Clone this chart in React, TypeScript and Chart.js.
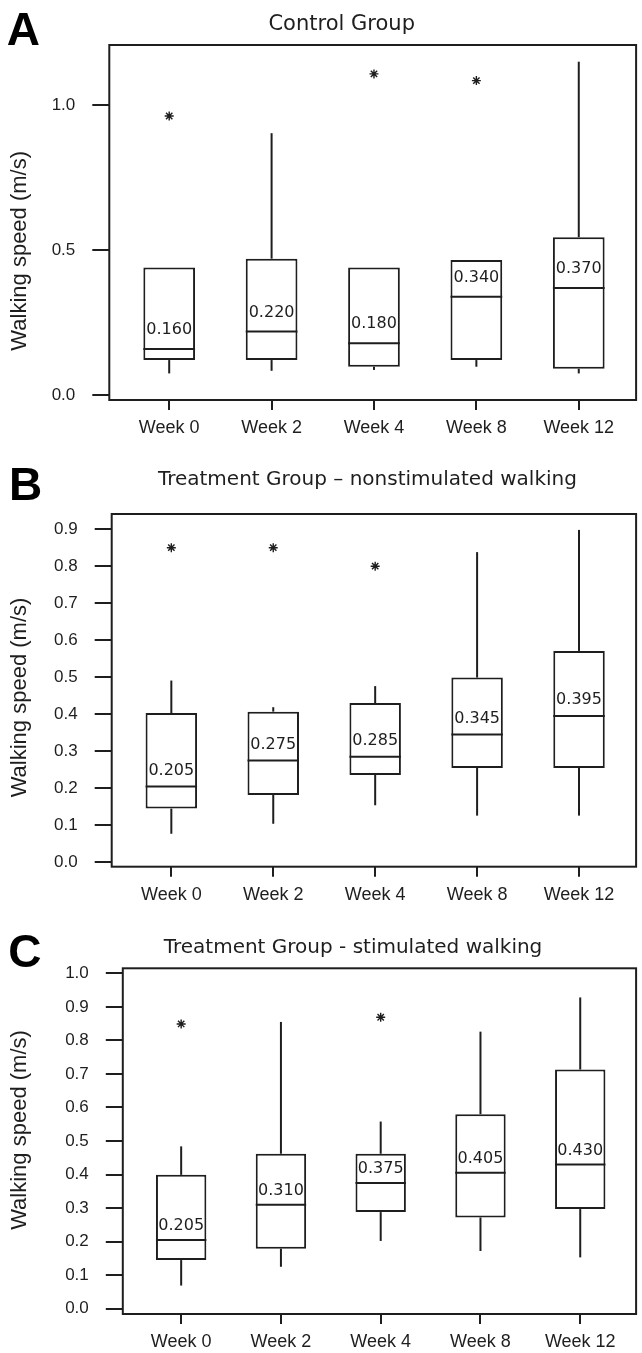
import React, { useEffect, useRef } from 'react';
import { Chart, registerables } from 'chart.js';

Chart.register(...registerables);

// ---------- data ----------
const categories = ['Week 0', 'Week 2', 'Week 4', 'Week 8', 'Week 12'];
const yAxisTitle = 'Walking speed (m/s)';

// Panel A – Control Group
const controlTitle = 'Control Group';
const controlQ1 = [0.122, 0.122, 0.099, 0.122, 0.092];
const controlMedian = [0.16, 0.22, 0.18, 0.34, 0.37];
const controlQ3 = [0.441, 0.471, 0.441, 0.466, 0.545];
const controlLow = [0.076, 0.085, 0.088, 0.099, 0.076];
const controlHigh = [0.441, 0.903, 0.441, 0.466, 1.149];
const controlOutlierWeek = [0, 2, 3];
const controlOutlierValue = [0.962, 1.107, 1.084];
const controlYTicks = [0, 0.5, 1.0];

// Panel B – Treatment Group, nonstimulated walking
const nonstimTitle = 'Treatment Group \u2013 nonstimulated walking';
const nonstimQ1 = [0.145, 0.182, 0.236, 0.255, 0.255];
const nonstimMedian = [0.205, 0.275, 0.285, 0.345, 0.395];
const nonstimQ3 = [0.403, 0.407, 0.43, 0.499, 0.571];
const nonstimLow = [0.077, 0.104, 0.154, 0.126, 0.126];
const nonstimHigh = [0.491, 0.419, 0.476, 0.838, 0.898];
const nonstimOutlierWeek = [0, 1, 2];
const nonstimOutlierValue = [0.85, 0.85, 0.8];
const nonstimYTicks = [0, 0.1, 0.2, 0.3, 0.4, 0.5, 0.6, 0.7, 0.8, 0.9];

// Panel C – Treatment Group, stimulated walking
const stimTitle = 'Treatment Group - stimulated walking';
const stimQ1 = [0.145, 0.179, 0.288, 0.272, 0.297];
const stimMedian = [0.205, 0.31, 0.375, 0.405, 0.43];
const stimQ3 = [0.399, 0.462, 0.462, 0.58, 0.713];
const stimLow = [0.069, 0.125, 0.202, 0.172, 0.153];
const stimHigh = [0.484, 0.855, 0.558, 0.826, 0.928];
const stimOutlierWeek = [0, 2];
const stimOutlierValue = [0.849, 0.869];
const stimYTicks = [0, 0.1, 0.2, 0.3, 0.4, 0.5, 0.6, 0.7, 0.8, 0.9, 1.0];

// ---------- styling / layout ----------
const INK = '#1e1e1e';
const SANS = "'Liberation Sans', Arial, Helvetica, sans-serif";
const DEJAVU = "'DejaVu Sans', Verdana, sans-serif";

type PanelData = {
  letter: string;
  title: string;
  q1: number[];
  median: number[];
  q3: number[];
  low: number[];
  high: number[];
  outWeek: number[];
  outValue: number[];
  yTicks: number[];
};

type PanelLayout = {
  top: number;
  height: number;
  plotTop: number;
  axisH: number;
  axisW: number;
  yMin: number;
  yMax: number;
  letterX: number;
  letterY: number;
  titleX: number;
  titleY: number;
  titleSize: number;
  yTitleY: number;
  labelOffset: number;
};

const panels: { data: PanelData; layout: PanelLayout }[] = [
  {
    data: {
      letter: 'A', title: controlTitle, q1: controlQ1, median: controlMedian, q3: controlQ3,
      low: controlLow, high: controlHigh, outWeek: controlOutlierWeek, outValue: controlOutlierValue,
      yTicks: controlYTicks,
    },
    layout: {
      top: 0, height: 440, plotTop: 45, axisH: 40, axisW: 109.3, yMin: -0.0155, yMax: 1.2065,
      letterX: 6.7, letterY: 45, titleX: 341.7, titleY: 30, titleSize: 21, yTitleY: 250.8, labelOffset: 19,
    },
  },
  {
    data: {
      letter: 'B', title: nonstimTitle, q1: nonstimQ1, median: nonstimMedian, q3: nonstimQ3,
      low: nonstimLow, high: nonstimHigh, outWeek: nonstimOutlierWeek, outValue: nonstimOutlierValue,
      yTicks: nonstimYTicks,
    },
    layout: {
      top: 440, height: 465, plotTop: 74, axisH: 38.3, axisW: 111.7, yMin: -0.012, yMax: 0.941,
      letterX: 9, letterY: 60, titleX: 367.4, titleY: 45, titleSize: 20, yTitleY: 257.5, labelOffset: 16,
    },
  },
  {
    data: {
      letter: 'C', title: stimTitle, q1: stimQ1, median: stimMedian, q3: stimQ3,
      low: stimLow, high: stimHigh, outWeek: stimOutlierWeek, outValue: stimOutlierValue,
      yTicks: stimYTicks,
    },
    layout: {
      top: 905, height: 448, plotTop: 63.3, axisH: 39, axisW: 122.8, yMin: -0.0158, yMax: 1.0149,
      letterX: 8.2, letterY: 61.7, titleX: 353, titleY: 48.3, titleSize: 20, yTitleY: 225, labelOffset: 14,
    },
  },
];

function BoxPanel({ data, layout }: { data: PanelData; layout: PanelLayout }) {
  const ref = useRef<HTMLCanvasElement | null>(null);

  useEffect(() => {
    const canvas = ref.current;
    if (!canvas) return;

    const extras = {
      id: 'boxExtras',
      afterDatasetsDraw(chart: any) {
        const { ctx, chartArea } = chart;
        const ys = chart.scales.y;
        const meta = chart.getDatasetMeta(0);
        const py = (v: number) => ys.getPixelForValue(v);
        const seg = (x1: number, y1: number, x2: number, y2: number) => {
          ctx.beginPath();
          ctx.moveTo(x1, y1);
          ctx.lineTo(x2, y2);
          ctx.stroke();
        };
        ctx.save();
        ctx.strokeStyle = INK;
        ctx.lineWidth = 2;
        ctx.lineCap = 'butt';
        categories.forEach((_, i) => {
          const el: any = meta.data[i];
          if (!el) return;
          const cx = el.x;
          const w = el.width;
          if (data.high[i] > data.q3[i]) seg(cx, py(data.q3[i]), cx, py(data.high[i]));
          if (data.low[i] < data.q1[i]) seg(cx, py(data.q1[i]), cx, py(data.low[i]));
          const my = py(data.median[i]);
          seg(cx - w / 2, my, cx + w / 2, my);
          ctx.fillStyle = INK;
          ctx.font = `16px ${DEJAVU}`;
          ctx.textAlign = 'center';
          ctx.textBaseline = 'middle';
          ctx.fillText(data.median[i].toFixed(3), cx, my - layout.labelOffset);
        });
        // frame
        ctx.strokeRect(
          chartArea.left, chartArea.top,
          chartArea.right - chartArea.left, chartArea.bottom - chartArea.top
        );
        // panel letter
        ctx.fillStyle = '#000';
        ctx.textAlign = 'left';
        ctx.textBaseline = 'alphabetic';
        ctx.font = `bold 46px ${SANS}`;
        ctx.fillText(data.letter, layout.letterX, layout.letterY);
        // title
        ctx.fillStyle = INK;
        ctx.textAlign = 'center';
        ctx.font = `${layout.titleSize}px ${DEJAVU}`;
        ctx.fillText(data.title, layout.titleX, layout.titleY);
        // y axis title
        ctx.save();
        ctx.translate(26, layout.yTitleY);
        ctx.rotate(-Math.PI / 2);
        ctx.font = `22px ${SANS}`;
        ctx.textAlign = 'center';
        ctx.textBaseline = 'alphabetic';
        ctx.fillText(yAxisTitle, 0, 0);
        ctx.restore();
        ctx.restore();
      },
    };

    const chart = new Chart(canvas, {
      type: 'bar',
      data: {
        datasets: [
          {
            type: 'bar',
            data: categories.map((_, i) => ({ x: i, y: [data.q1[i], data.q3[i]] })) as any,
            backgroundColor: '#ffffff',
            borderColor: INK,
            borderWidth: 2,
            borderSkipped: false,
            barPercentage: 0.505,
            categoryPercentage: 1,
          } as any,
          {
            type: 'scatter',
            data: data.outWeek.map((w, k) => ({ x: w, y: data.outValue[k] })),
            pointStyle: 'star',
            pointRadius: 4.5,
            borderColor: INK,
            backgroundColor: INK,
            borderWidth: 1.4,
          } as any,
        ],
      },
      options: {
        responsive: false,
        animation: false,
        devicePixelRatio: 1,
        layout: { padding: { top: layout.plotTop, right: 1, bottom: 0, left: 0 } },
        plugins: { legend: { display: false }, tooltip: { enabled: false }, title: { display: false } },
        scales: {
          x: {
            type: 'linear',
            offset: false,
            min: -0.585,
            max: 4.56,
            afterBuildTicks: (s: any) => {
              s.ticks = categories.map((_, i) => ({ value: i }));
            },
            afterFit: (s: any) => {
              s.height = layout.axisH;
            },
            grid: {
              offset: false,
              drawOnChartArea: false,
              drawTicks: true,
              tickLength: 10,
              tickWidth: 2,
              tickColor: INK,
              lineWidth: 2,
              color: INK,
            },
            border: { display: false },
            ticks: {
              autoSkip: false,
              maxRotation: 0,
              padding: 7.5,
              color: INK,
              font: { family: SANS, size: 18 },
              callback: (v: any) => categories[Math.round(Number(v))] ?? '',
            },
          },
          y: {
            type: 'linear',
            min: layout.yMin,
            max: layout.yMax,
            afterBuildTicks: (s: any) => {
              s.ticks = data.yTicks.map((v) => ({ value: v }));
            },
            afterFit: (s: any) => {
              s.width = layout.axisW;
            },
            grid: {
              drawOnChartArea: false,
              drawTicks: true,
              tickLength: 17,
              tickWidth: 2,
              tickColor: INK,
              lineWidth: 2,
              color: INK,
            },
            border: { display: false },
            ticks: {
              padding: 17,
              color: INK,
              font: { family: SANS, size: 17 },
              callback: (v: any) => Number(v).toFixed(1),
            },
          },
        },
      } as any,
      plugins: [extras],
    });

    return () => chart.destroy();
  }, []);

  return (
    <canvas
      ref={ref}
      width={642}
      height={layout.height}
      style={{ position: 'absolute', left: 0, top: layout.top, width: 642, height: layout.height }}
    />
  );
}

export default function App() {
  return (
    <div
      style={{
        position: 'absolute',
        left: 0,
        top: 0,
        width: 642,
        height: 1353,
        background: '#ffffff',
        overflow: 'hidden',
      }}
    >
      {panels.map((p) => (
        <BoxPanel key={p.data.letter} data={p.data} layout={p.layout} />
      ))}
    </div>
  );
}
